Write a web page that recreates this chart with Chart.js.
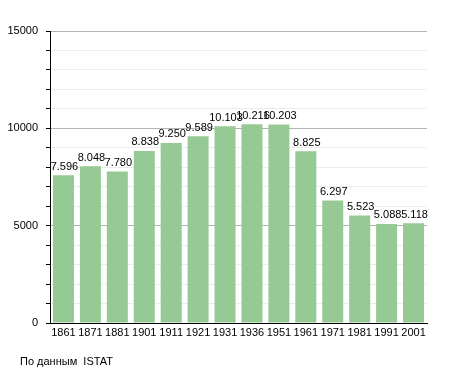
<!DOCTYPE html>
<html>
<head>
<meta charset="utf-8">
<script src="https://cdn.jsdelivr.net/npm/chart.js@4/dist/chart.umd.min.js"></script>
<style>
  html, body { margin: 0; padding: 0; background: #fff; }
  #wrap { width: 455px; height: 373px; }
</style>
</head>
<body>
<div id="wrap"><canvas id="graphics" width="455" height="373"></canvas></div>
<script>
// census years and population (ISTAT)
const years = ['1861', '1871', '1881', '1901', '1911', '1921', '1931', '1936', '1951', '1961', '1971', '1981', '1991', '2001'];
const population = [7596, 8048, 7780, 8838, 9250, 9589, 10103, 10216, 10203, 8825, 6297, 5523, 5088, 5118];
const yTicks = [0, 5000, 10000, 15000];
const sourceText = 'По данным  ISTAT';

const FONT = 'Liberation Sans, Arial, sans-serif';

function fmt(v) {
    return String(v).replace(/\B(?=(\d{3})+(?!\d))/g, '.');
}

const valueLabels = {
    id: 'valueLabels',
    afterDatasetsDraw(chart) {
        const ctx = chart.ctx;
        const meta = chart.getDatasetMeta(0);
        ctx.save();
        ctx.font = '11px ' + FONT;
        ctx.fillStyle = '#000';
        ctx.textAlign = 'center';
        ctx.textBaseline = 'bottom';
        meta.data.forEach((bar, i) => {
            ctx.fillText(fmt(population[i]), bar.x + 1, bar.y - 3);
        });
        // source note
        ctx.textAlign = 'left';
        ctx.textBaseline = 'middle';
        ctx.fillText(sourceText, 20, 362);
        ctx.restore();
    }
};

var ctx = document.getElementById('graphics').getContext('2d');
var myChart = new Chart(ctx, {
    type: 'bar',
    data: {
        labels: years,
        datasets: [{
            data: population,
            backgroundColor: '#97c995',
            borderWidth: 0,
            barPercentage: 0.78,
            categoryPercentage: 1
        }]
    },
    options: {
        responsive: false,
        animation: false,
        layout: { padding: { left: 0, top: 31, right: 28, bottom: 30 } },
        plugins: { legend: { display: false }, tooltip: { enabled: false } },
        scales: {
            x: {
                grid: { display: false, drawTicks: false, tickLength: 0 },
                border: { color: '#000', width: 1 },
                ticks: { color: '#000', font: { family: FONT, size: 11 }, padding: 3, maxRotation: 0, autoSkip: false },
                afterFit: s => { s.height = 20; }
            },
            y: {
                min: 0,
                max: 15000,
                border: { color: '#000', width: 1 },
                grid: {
                    color: c => (c.tick && c.tick.value % 5000 === 0) ? '#b4b4b4' : '#ececec',
                    tickColor: '#000',
                    tickLength: 4,
                    drawTicks: true
                },
                ticks: {
                    stepSize: 1000,
                    autoSkip: false,
                    color: '#000',
                    padding: 8,
                    font: { family: FONT, size: 11 },
                    callback: v => yTicks.includes(v) ? String(v) : ''
                },
                afterFit: s => { s.width = 50; }
            }
        }
    },
    plugins: [valueLabels]
});
</script>
</body>
</html>
